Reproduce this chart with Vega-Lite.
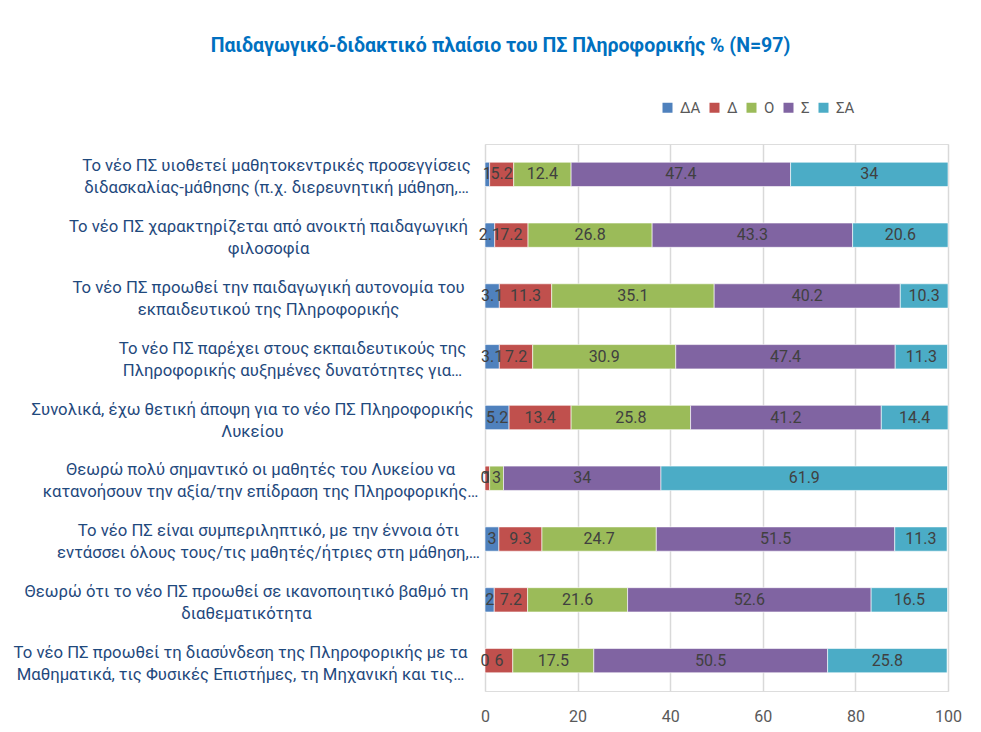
{
  "$schema": "https://vega.github.io/schema/vega-lite/v6.json",
  "autosize": {"type": "none"},
  "padding": {"left": 485, "top": 144, "right": 33, "bottom": 41},
  "width": 463,
  "height": 547,
  "background": "white",
  "title": {
    "text": "Παιδαγωγικό-διδακτικό πλαίσιο του ΠΣ Πληροφορικής  % (N=97)",
    "font": "Roboto",
    "fontSize": 19.5,
    "fontWeight": "bold",
    "color": "#0070C0",
    "anchor": "middle",
    "frame": "group",
    "dx": -216,
    "offset": 44
  },
  "datasets": {
    "labels": [
      {"id": 1, "q": "Το νέο ΠΣ υιοθετεί μαθητοκεντρικές προσεγγίσεις|διδασκαλίας-μάθησης (π.χ. διερευνητική μάθηση,…"},
      {"id": 2, "q": "Το νέο ΠΣ χαρακτηρίζεται από ανοικτή παιδαγωγική|φιλοσοφία"},
      {"id": 3, "q": "Το νέο ΠΣ προωθεί την παιδαγωγική αυτονομία του|εκπαιδευτικού της Πληροφορικής"},
      {"id": 4, "q": "Το νέο ΠΣ παρέχει στους εκπαιδευτικούς της|Πληροφορικής αυξημένες δυνατότητες για…"},
      {"id": 5, "q": "Συνολικά, έχω θετική άποψη για το νέο ΠΣ Πληροφορικής|Λυκείου"},
      {"id": 6, "q": "Θεωρώ πολύ σημαντικό οι μαθητές του Λυκείου να|κατανοήσουν την αξία/την επίδραση της Πληροφορικής…"},
      {"id": 7, "q": "Το νέο ΠΣ είναι συμπεριληπτικό, με την έννοια ότι|εντάσσει όλους τους/τις μαθητές/ήτριες στη μάθηση,…"},
      {"id": 8, "q": "Θεωρώ ότι το νέο ΠΣ προωθεί σε ικανοποιητικό βαθμό τη|διαθεματικότητα"},
      {"id": 9, "q": "Το νέο ΠΣ προωθεί τη διασύνδεση της Πληροφορικής με τα|Μαθηματικά, τις Φυσικές Επιστήμες, τη Μηχανική και τις…"}
    ],
    "vals": [
      {"id": 1, "k": "ΔΑ", "o": 1, "v": 1},
      {"id": 1, "k": "Δ", "o": 2, "v": 5.2},
      {"id": 1, "k": "Ο", "o": 3, "v": 12.4},
      {"id": 1, "k": "Σ", "o": 4, "v": 47.4},
      {"id": 1, "k": "ΣΑ", "o": 5, "v": 34},
      {"id": 2, "k": "ΔΑ", "o": 1, "v": 2.1},
      {"id": 2, "k": "Δ", "o": 2, "v": 7.2},
      {"id": 2, "k": "Ο", "o": 3, "v": 26.8},
      {"id": 2, "k": "Σ", "o": 4, "v": 43.3},
      {"id": 2, "k": "ΣΑ", "o": 5, "v": 20.6},
      {"id": 3, "k": "ΔΑ", "o": 1, "v": 3.1},
      {"id": 3, "k": "Δ", "o": 2, "v": 11.3},
      {"id": 3, "k": "Ο", "o": 3, "v": 35.1},
      {"id": 3, "k": "Σ", "o": 4, "v": 40.2},
      {"id": 3, "k": "ΣΑ", "o": 5, "v": 10.3},
      {"id": 4, "k": "ΔΑ", "o": 1, "v": 3.1},
      {"id": 4, "k": "Δ", "o": 2, "v": 7.2},
      {"id": 4, "k": "Ο", "o": 3, "v": 30.9},
      {"id": 4, "k": "Σ", "o": 4, "v": 47.4},
      {"id": 4, "k": "ΣΑ", "o": 5, "v": 11.3},
      {"id": 5, "k": "ΔΑ", "o": 1, "v": 5.2},
      {"id": 5, "k": "Δ", "o": 2, "v": 13.4},
      {"id": 5, "k": "Ο", "o": 3, "v": 25.8},
      {"id": 5, "k": "Σ", "o": 4, "v": 41.2},
      {"id": 5, "k": "ΣΑ", "o": 5, "v": 14.4},
      {"id": 6, "k": "ΔΑ", "o": 1, "v": 0},
      {"id": 6, "k": "Δ", "o": 2, "v": 1},
      {"id": 6, "k": "Ο", "o": 3, "v": 3},
      {"id": 6, "k": "Σ", "o": 4, "v": 34},
      {"id": 6, "k": "ΣΑ", "o": 5, "v": 61.9},
      {"id": 7, "k": "ΔΑ", "o": 1, "v": 3},
      {"id": 7, "k": "Δ", "o": 2, "v": 9.3},
      {"id": 7, "k": "Ο", "o": 3, "v": 24.7},
      {"id": 7, "k": "Σ", "o": 4, "v": 51.5},
      {"id": 7, "k": "ΣΑ", "o": 5, "v": 11.3},
      {"id": 8, "k": "ΔΑ", "o": 1, "v": 2},
      {"id": 8, "k": "Δ", "o": 2, "v": 7.2},
      {"id": 8, "k": "Ο", "o": 3, "v": 21.6},
      {"id": 8, "k": "Σ", "o": 4, "v": 52.6},
      {"id": 8, "k": "ΣΑ", "o": 5, "v": 16.5},
      {"id": 9, "k": "ΔΑ", "o": 1, "v": 0},
      {"id": 9, "k": "Δ", "o": 2, "v": 6},
      {"id": 9, "k": "Ο", "o": 3, "v": 17.5},
      {"id": 9, "k": "Σ", "o": 4, "v": 50.5},
      {"id": 9, "k": "ΣΑ", "o": 5, "v": 25.8}
    ]
  },
  "data": {"name": "vals"},
  "transform": [
    {"lookup": "id", "from": {"data": {"name": "labels"}, "key": "id", "fields": ["q"]}},
    {"stack": "v", "groupby": ["id"], "sort": [{"field": "o", "order": "ascending"}], "as": ["x0", "x1"]},
    {"calculate": "(datum.x0 + datum.x1) / 2", "as": "xm"}
  ],
  "encoding": {
    "y": {
      "field": "q",
      "type": "nominal",
      "sort": {"field": "id", "op": "min", "order": "ascending"},
      "scale": {"paddingInner": 0.6, "paddingOuter": 0.3},
      "axis": {
        "title": null,
        "domain": false,
        "ticks": false,
        "labelExpr": "split(datum.label, '|')",
        "labelAlign": "center",
        "labelBaseline": "middle",
        "labelPadding": 225,
        "labelOffset": -8,
        "labelLimit": 0,
        "labelFont": "Roboto",
        "labelFontSize": 16.7,
        "labelLineHeight": 22,
        "labelColor": "#1F497D",
        "encoding": {
          "labels": {
            "dx": {"value": {"expr": "indexof(datum.value,'υιοθετεί')>=0 ? 16 : indexof(datum.value,'χαρακτηρίζεται')>=0 ? 8 : indexof(datum.value,'αυτονομία')>=0 ? 8 : indexof(datum.value,'παρέχει')>=0 ? 32 : indexof(datum.value,'Συνολικά')>=0 ? -8 : indexof(datum.value,'σημαντικό')>=0 ? 0 : indexof(datum.value,'συμπεριληπτικό')>=0 ? 8 : indexof(datum.value,'διαθεματικότητα')>=0 ? -14 : -20"}}
          }
        }
      }
    }
  },
  "layer": [
    {
      "mark": {"type": "bar", "stroke": "white", "strokeWidth": 0.6},
      "encoding": {
        "x": {
          "field": "x0",
          "type": "quantitative",
          "scale": {"domain": [0, 100], "nice": false},
          "axis": {
            "title": null,
            "values": [0, 20, 40, 60, 80, 100],
            "domain": false,
            "ticks": false,
            "grid": true,
            "gridColor": "#d9d9d9",
            "gridWidth": 1.5,
            "labelFlush": false,
            "labelFont": "Roboto",
            "labelFontSize": 16,
            "labelColor": "#595959",
            "labelPadding": 17
          }
        },
        "x2": {"field": "x1"},
        "color": {
          "field": "k",
          "type": "nominal",
          "scale": {
            "domain": ["ΔΑ", "Δ", "Ο", "Σ", "ΣΑ"],
            "range": ["#4F81BD", "#C0504D", "#9BBB59", "#8064A2", "#4BACC6"]
          },
          "legend": {
            "title": null,
            "orient": "none",
            "direction": "horizontal",
            "legendX": 175,
            "legendY": -44,
            "symbolType": "square",
            "symbolSize": 100,
            "symbolStrokeWidth": 0,
            "labelFont": "Roboto",
            "labelFontSize": 15,
            "labelColor": "#595959",
            "labelOffset": 5,
            "columnPadding": 6,
            "padding": 0
          }
        }
      }
    },
    {
      "mark": {"type": "text", "font": "Roboto", "fontSize": 16, "color": "#404040", "baseline": "middle", "align": "center"},
      "encoding": {
        "x": {"field": "xm", "type": "quantitative"},
        "text": {"field": "v", "type": "quantitative", "format": ""}
      }
    }
  ]
}
